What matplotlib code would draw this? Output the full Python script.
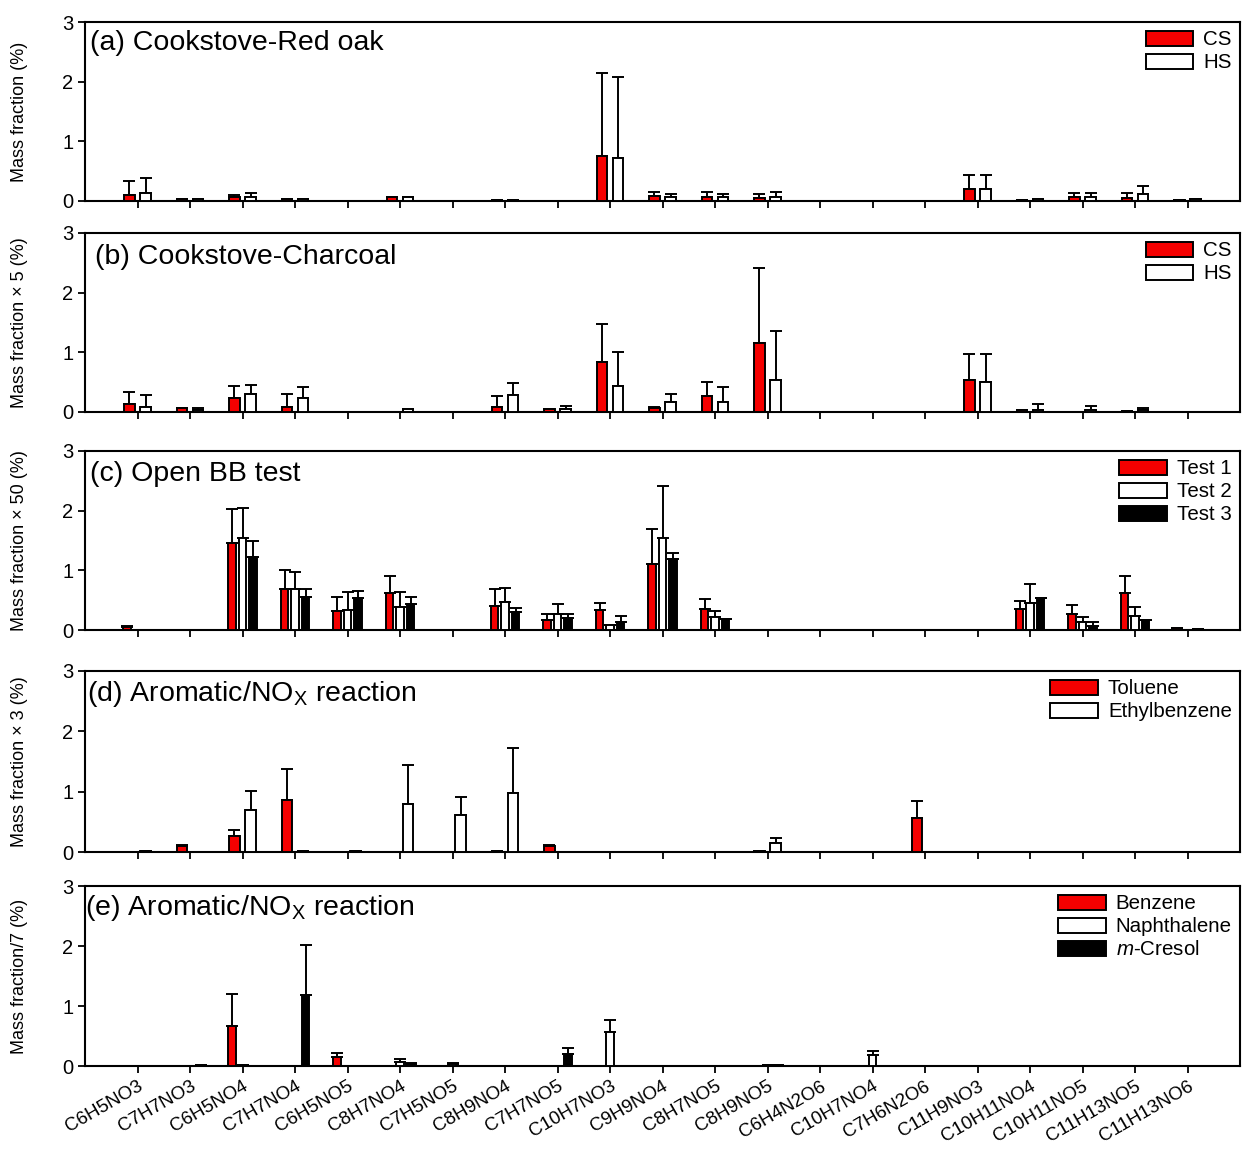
import matplotlib
matplotlib.use("Agg")
import matplotlib.pyplot as plt
import numpy as np

plt.rcParams.update({
    'font.family': ['Liberation Sans', 'DejaVu Sans'],
    'mathtext.fontset': 'custom',
    'mathtext.rm': 'Liberation Sans',
    'mathtext.it': 'Liberation Sans:italic',
    'axes.linewidth': 1.5,
    'xtick.major.width': 1.3,
    'ytick.major.width': 1.3,
    'xtick.major.size': 5,
    'ytick.major.size': 5,
})

COMPOUNDS = ["C6H5NO3", "C7H7NO3", "C6H5NO4", "C7H7NO4", "C6H5NO5", "C8H7NO4", "C7H5NO5",
             "C8H9NO4", "C7H7NO5", "C10H7NO3", "C9H9NO4", "C8H7NO5", "C8H9NO5", "C6H4N2O6",
             "C10H7NO4", "C7H6N2O6", "C11H9NO3", "C10H11NO4", "C10H11NO5", "C11H13NO5", "C11H13NO6"]

# (a) cookstove - red oak
a_cs     = [0.10, 0.03, 0.07, 0.03, 0, 0.06, 0, 0.01, 0, 0.75, 0.08, 0.06, 0.05, 0, 0, 0, 0.20, 0.02, 0.07, 0.05, 0.02]
a_cs_err = [0.23, 0, 0.03, 0, 0, 0, 0, 0, 0, 1.39, 0.07, 0.09, 0.07, 0, 0, 0, 0.24, 0, 0.07, 0.09, 0]
a_hs     = [0.13, 0.04, 0.06, 0.03, 0, 0.06, 0, 0.01, 0, 0.72, 0.06, 0.06, 0.07, 0, 0, 0, 0.20, 0.04, 0.06, 0.11, 0.04]
a_hs_err = [0.25, 0, 0.07, 0, 0, 0, 0, 0, 0, 1.36, 0.06, 0.06, 0.08, 0, 0, 0, 0.24, 0, 0.08, 0.14, 0]

# (b) cookstove - charcoal (x5)
b_cs     = [0.14, 0.06, 0.24, 0.09, 0, 0, 0, 0.09, 0.05, 0.84, 0.07, 0.26, 1.15, 0, 0, 0, 0.54, 0.03, 0, 0.01, 0]
b_cs_err = [0.19, 0.01, 0.20, 0.22, 0, 0, 0, 0.18, 0, 0.64, 0.01, 0.24, 1.27, 0, 0, 0, 0.43, 0, 0, 0, 0]
b_hs     = [0.09, 0.03, 0.31, 0.24, 0, 0.05, 0, 0.28, 0.05, 0.44, 0.17, 0.17, 0.54, 0, 0, 0, 0.51, 0.04, 0.03, 0.03, 0]
b_hs_err = [0.20, 0.04, 0.15, 0.18, 0, 0, 0, 0.20, 0.05, 0.56, 0.13, 0.25, 0.82, 0, 0, 0, 0.46, 0.09, 0.07, 0.03, 0]

# (c) open BB test (x50)
c_t1     = [0.05, 0, 1.46, 0.69, 0.32, 0.62, 0, 0.41, 0.17, 0.33, 1.11, 0.36, 0, 0, 0, 0, 0, 0.35, 0.27, 0.62, 0.04]
c_t1_err = [0.02, 0, 0.56, 0.32, 0.24, 0.29, 0, 0.27, 0.10, 0.12, 0.58, 0.16, 0, 0, 0, 0, 0, 0.14, 0.15, 0.28, 0]
c_t2     = [0, 0, 1.54, 0.69, 0.34, 0.38, 0, 0.47, 0.27, 0.09, 1.54, 0.21, 0, 0, 0, 0, 0, 0.46, 0.13, 0.24, 0]
c_t2_err = [0, 0, 0.50, 0.28, 0.30, 0.26, 0, 0.24, 0.17, 0, 0.87, 0.11, 0, 0, 0, 0, 0, 0.31, 0.08, 0.15, 0]
c_t3     = [0, 0, 1.23, 0.56, 0.53, 0.44, 0, 0.30, 0.20, 0.13, 1.19, 0.18, 0, 0, 0, 0, 0, 0.53, 0.07, 0.16, 0.01]
c_t3_err = [0, 0, 0.27, 0.13, 0.13, 0.12, 0, 0.07, 0.07, 0.11, 0.10, 0.01, 0, 0, 0, 0, 0, 0, 0.07, 0, 0]

# (d) aromatic/NOx (x3)
d_tol     = [0, 0.10, 0.26, 0.86, 0, 0, 0, 0.02, 0.10, 0, 0, 0, 0.02, 0, 0, 0.56, 0, 0, 0, 0, 0]
d_tol_err = [0, 0.02, 0.11, 0.51, 0, 0, 0, 0, 0.02, 0, 0, 0, 0, 0, 0, 0.28, 0, 0, 0, 0, 0]
d_eth     = [0.02, 0, 0.70, 0.02, 0.02, 0.80, 0.62, 0.97, 0, 0, 0, 0, 0.15, 0, 0, 0, 0, 0, 0, 0, 0]
d_eth_err = [0, 0, 0.31, 0, 0, 0.64, 0.29, 0.76, 0, 0, 0, 0, 0.09, 0, 0, 0, 0, 0, 0, 0, 0]

# (e) aromatic/NOx (/7)
e_ben     = [0, 0, 0.67, 0, 0.15, 0, 0, 0, 0, 0, 0, 0, 0, 0, 0, 0, 0, 0, 0, 0, 0]
e_ben_err = [0, 0, 0.53, 0, 0.07, 0, 0, 0, 0, 0, 0, 0, 0, 0, 0, 0, 0, 0, 0, 0, 0]
e_nap     = [0, 0, 0.01, 0, 0, 0.07, 0.04, 0, 0, 0.57, 0, 0, 0.02, 0, 0.18, 0, 0, 0, 0, 0, 0]
e_nap_err = [0, 0, 0, 0, 0, 0.05, 0.01, 0, 0, 0.19, 0, 0, 0, 0, 0.07, 0, 0, 0, 0, 0, 0]
e_cre     = [0, 0.01, 0, 1.19, 0, 0.04, 0, 0, 0.20, 0, 0, 0, 0.02, 0, 0, 0, 0, 0, 0, 0, 0]
e_cre_err = [0, 0, 0, 0.83, 0, 0.01, 0, 0, 0.10, 0, 0, 0, 0, 0, 0, 0, 0, 0, 0, 0, 0]

RED = '#f40000'
W, H = 1253, 1157


def draw_bars(ax, series, offsets, width):
    x = np.arange(1, len(COMPOUNDS) + 1)
    for (vals, errs, color, label), off in zip(series, offsets):
        vals = np.asarray(vals, float)
        errs = np.asarray(errs, float)
        m = vals > 0
        ax.bar(x[m] + off, vals[m], width, color=color, edgecolor='k', linewidth=1.4, zorder=3)
        ax.errorbar(x[m] + off, vals[m], yerr=[np.zeros(m.sum()), errs[m]], fmt='none',
                    ecolor='k', elinewidth=1.4, capsize=4, capthick=1.4, zorder=2)
        ax.bar([0], [0], width, color=color, edgecolor='k', linewidth=1.4, label=label)


def setup_axes(top, bottom, ylabel, title, tx, ty, show_labels=False):
    left, right = 85, 1240
    ax = fig.add_axes([left / W, 1 - bottom / H, (right - left) / W, (bottom - top) / H])
    ax.set_xlim(0, 22)
    ax.set_ylim(0, 3)
    ax.set_yticks([0, 1, 2, 3])
    ax.set_xticks(np.arange(1, len(COMPOUNDS) + 1))
    ax.tick_params(direction='out', labelsize=14.5)
    if show_labels:
        ax.set_xticklabels(COMPOUNDS, rotation=30, ha='right', rotation_mode='anchor', fontsize=13.5)
    else:
        ax.set_xticklabels([])
    ax.set_ylabel(ylabel, fontsize=13)
    ax.yaxis.set_label_coords(-0.049, 0.5)
    ax.text(tx, ty, title, transform=ax.transAxes, fontsize=20.5, va='center', ha='left')
    return ax


def add_legend(ax):
    ax.legend(loc='upper right', bbox_to_anchor=(1.0, 1.0), frameon=False, fontsize=14.8,
              handlelength=2.3, handleheight=0.75, handletextpad=0.5, labelspacing=0.2,
              borderaxespad=0.2, borderpad=0.2)


fig = plt.figure(figsize=(W / 100, H / 100), dpi=100)

ax = setup_axes(22, 201, 'Mass fraction (%)', '(a) Cookstove-Red oak', 0.004, 0.885)
draw_bars(ax, [(a_cs, a_cs_err, RED, 'CS'), (a_hs, a_hs_err, 'white', 'HS')], [-0.155, 0.155], 0.2)
add_legend(ax)

ax = setup_axes(233, 412, 'Mass fraction × 5 (%)', '(b) Cookstove-Charcoal', 0.009, 0.868)
draw_bars(ax, [(b_cs, b_cs_err, RED, 'CS'), (b_hs, b_hs_err, 'white', 'HS')], [-0.155, 0.155], 0.2)
add_legend(ax)

ax = setup_axes(451, 630, 'Mass fraction × 50 (%)', '(c) Open BB test', 0.004, 0.873)
draw_bars(ax, [(c_t1, c_t1_err, RED, 'Test 1'), (c_t2, c_t2_err, 'white', 'Test 2'),
               (c_t3, c_t3_err, 'black', 'Test 3')], [-0.2, 0, 0.2], 0.15)
add_legend(ax)

ax = setup_axes(671, 852, 'Mass fraction × 3 (%)', '(d) Aromatic/NO$_\\mathrm{X}$ reaction', 0.002, 0.875)
draw_bars(ax, [(d_tol, d_tol_err, RED, 'Toluene'), (d_eth, d_eth_err, 'white', 'Ethylbenzene')],
          [-0.155, 0.155], 0.2)
add_legend(ax)

ax = setup_axes(886, 1066, 'Mass fraction/7 (%)', '(e) Aromatic/NO$_\\mathrm{X}$ reaction', 0.0, 0.879,
                show_labels=True)
draw_bars(ax, [(e_ben, e_ben_err, RED, 'Benzene'), (e_nap, e_nap_err, 'white', 'Naphthalene'),
               (e_cre, e_cre_err, 'black', '$\\it{m}$-Cresol')], [-0.2, 0, 0.2], 0.15)
add_legend(ax)

fig.savefig('out.png', dpi=100)
